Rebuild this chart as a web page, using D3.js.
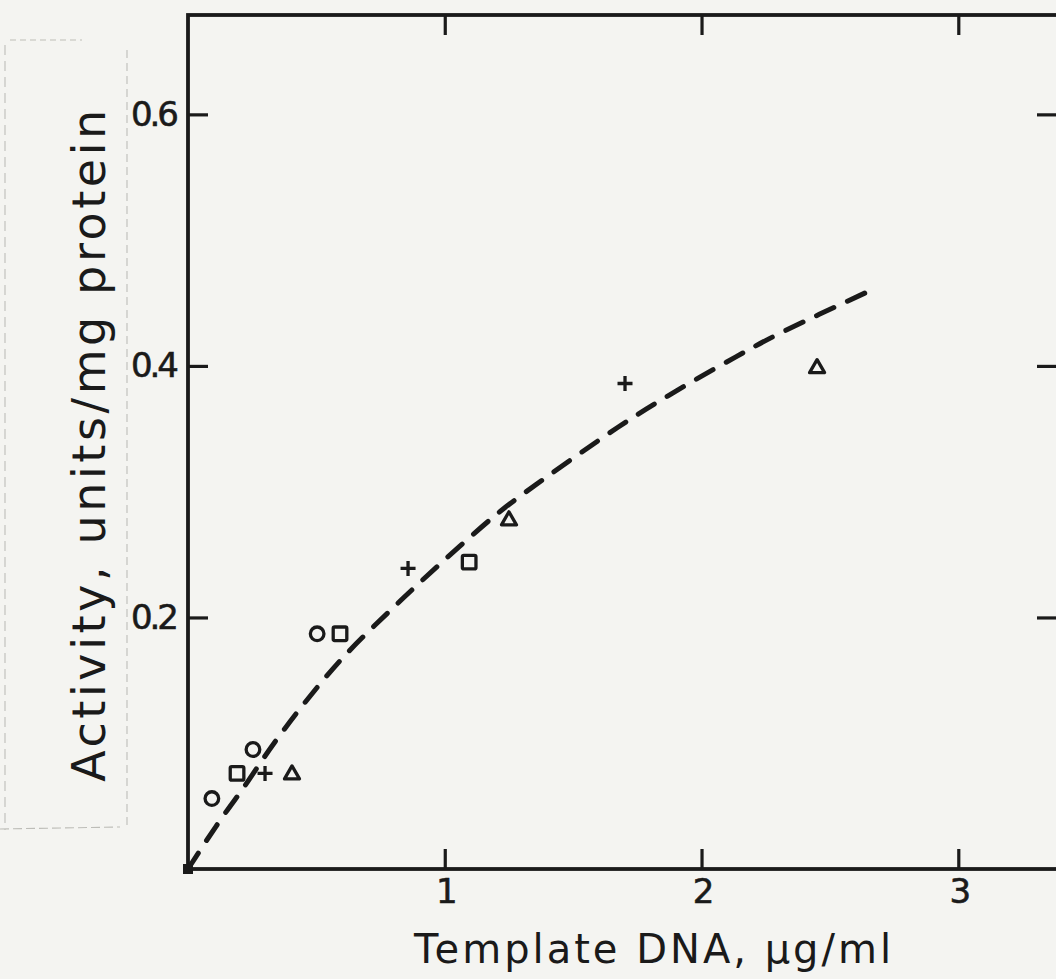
<!DOCTYPE html>
<html>
<head>
<meta charset="utf-8">
<script src="https://cdn.jsdelivr.net/npm/d3@7"></script>
<style>
  html, body { margin: 0; padding: 0; background: #f4f4f1; }
  svg { display: block; }
  text { font-family: "DejaVu Sans", sans-serif; fill: #1a1a1a; }
</style>
</head>
<body>
<svg id="chart" width="1056" height="979"></svg>
<script>
// ---- data ----
const xTicks = [1, 2, 3];
const yTicks = [0.2, 0.4, 0.6];
const xTickLabels = ["1", "2", "3"];
const yTickLabels = ["0.2", "0.4", "0.6"];

const circleX = [0.093, 0.253, 0.503];
const circleY = [0.056, 0.095, 0.187];
const squareX = [0.191, 0.592, 1.095];
const squareY = [0.076, 0.187, 0.244];
const crossX = [0.30, 0.857, 1.702];
const crossY = [0.076, 0.239, 0.386];
const triangleX = [0.405, 1.25, 2.45];
const triangleY = [0.076, 0.278, 0.399];
const originX = [0];
const originY = [0];

const curveX = [0, 0.07, 0.14, 0.214, 0.284, 0.335, 0.45, 0.603, 0.79, 0.984, 1.19, 1.284, 1.673, 1.868, 2.132, 2.296, 2.658];
const curveY = [0, 0.022, 0.043, 0.064, 0.085, 0.100, 0.131, 0.168, 0.206, 0.243, 0.280, 0.295, 0.351, 0.376, 0.407, 0.425, 0.460];

const xLabel = "Template DNA, \u03bcg/ml";
const yLabel = "Activity, units/mg protein";

// ---- layout ----
const svg = d3.select("#chart");
const mLeft = 188, mRight = 1061, mTop = 15, mBottom = 869;
const x = d3.scaleLinear().domain([0, 3.4]).range([mLeft, mRight]);
const y = d3.scaleLinear().domain([0, 0.679]).range([mBottom, mTop]);
const ink = "#1a1a1a";

// faint paste-up outline at left
const faint = svg.append("g").attr("stroke", "#bdbdb8").attr("stroke-width", 1.1).attr("fill", "none");
faint.append("path").attr("d", "M10,40 L82,40").attr("stroke-dasharray", "6 4");
faint.append("path").attr("d", "M5,45 L5,830").attr("stroke-dasharray", "10 6");
faint.append("path").attr("d", "M127,50 L127,827").attr("stroke-dasharray", "8 5");
faint.append("path").attr("d", "M0,829 L120,827").attr("stroke-dasharray", "9 4");

// axes
const gx = svg.append("g").attr("transform", `translate(0,${mBottom})`)
  .call(d3.axisBottom(x).tickValues(xTicks).tickFormat((d, i) => xTickLabels[i])
    .tickSizeInner(-20).tickSizeOuter(0).tickPadding(10));
const gxTop = svg.append("g").attr("transform", `translate(0,${mTop})`)
  .call(d3.axisTop(x).tickValues(xTicks).tickFormat("")
    .tickSizeInner(-20).tickSizeOuter(0));
const gy = svg.append("g").attr("transform", `translate(${mLeft},0)`)
  .call(d3.axisLeft(y).tickValues(yTicks).tickFormat((d, i) => yTickLabels[i])
    .tickSizeInner(-20).tickSizeOuter(0).tickPadding(12));
const gyRight = svg.append("g").attr("transform", `translate(${mRight},0)`)
  .call(d3.axisRight(y).tickValues(yTicks).tickFormat("")
    .tickSizeInner(-24).tickSizeOuter(0));

[gx, gxTop, gy, gyRight].forEach(g => {
  g.select(".domain").remove();
  g.selectAll(".tick line").attr("stroke", ink).attr("stroke-width", 3.2);
  g.selectAll(".tick text").attr("fill", ink).style("font-size", "34px")
    .style("font-family", "DejaVu Sans, sans-serif").attr("letter-spacing", "-3")
    .attr("stroke", ink).attr("stroke-width", 0.6);
});

// frame
svg.append("rect").attr("x", mLeft).attr("y", mTop)
  .attr("width", mRight - mLeft).attr("height", mBottom - mTop)
  .attr("fill", "none").attr("stroke", ink).attr("stroke-width", 3.8);

// dashed curve
const curvePts = curveX.map((d, i) => [d, curveY[i]]);
svg.append("path").datum(curvePts)
  .attr("d", d3.line().x(d => x(d[0])).y(d => y(d[1])).curve(d3.curveCatmullRom.alpha(0.5)))
  .attr("fill", "none").attr("stroke", ink).attr("stroke-width", 5)
  .attr("stroke-linecap", "round").attr("stroke-dasharray", "19 15");

// markers
const mk = svg.append("g").attr("fill", "none").attr("stroke", ink).attr("stroke-width", 3.3);
mk.selectAll("circle.c").data(circleX.map((d, i) => [d, circleY[i]])).join("circle")
  .attr("cx", d => x(d[0])).attr("cy", d => y(d[1])).attr("r", 6.8);
mk.selectAll("rect.s").data(squareX.map((d, i) => [d, squareY[i]])).join("rect")
  .attr("x", d => x(d[0]) - 6.8).attr("y", d => y(d[1]) - 6.8)
  .attr("width", 13.6).attr("height", 13.6).attr("rx", 1.5);
mk.selectAll("path.p").data(crossX.map((d, i) => [d, crossY[i]])).join("path")
  .attr("class", "p")
  .attr("d", d => {
    const cx = x(d[0]), cy = y(d[1]);
    return `M${cx - 7.5},${cy} L${cx + 7.5},${cy} M${cx},${cy - 7.5} L${cx},${cy + 7.5}`;
  });
mk.selectAll("path.t").data(triangleX.map((d, i) => [d, triangleY[i]])).join("path")
  .attr("class", "t")
  .attr("d", d => {
    const cx = x(d[0]), cy = y(d[1]);
    return `M${cx},${cy - 7.5} L${cx + 7.5},${cy + 5.5} L${cx - 7.5},${cy + 5.5} Z`;
  }).attr("stroke-linejoin", "round");
svg.selectAll("rect.o").data(originX.map((d, i) => [d, originY[i]])).join("rect")
  .attr("class", "o")
  .attr("x", d => x(d[0]) - 5).attr("y", d => y(d[1]) - 5)
  .attr("width", 10).attr("height", 10).attr("fill", ink);

// axis titles
svg.append("text").attr("x", 654).attr("y", 963).attr("text-anchor", "middle")
  .attr("letter-spacing", "3").style("font-size", "40px").text(xLabel);
svg.append("text").attr("transform", "translate(105,444) rotate(-90)")
  .attr("text-anchor", "middle").attr("letter-spacing", "3.6")
  .style("font-size", "46px").text(yLabel);
</script>
</body>
</html>
